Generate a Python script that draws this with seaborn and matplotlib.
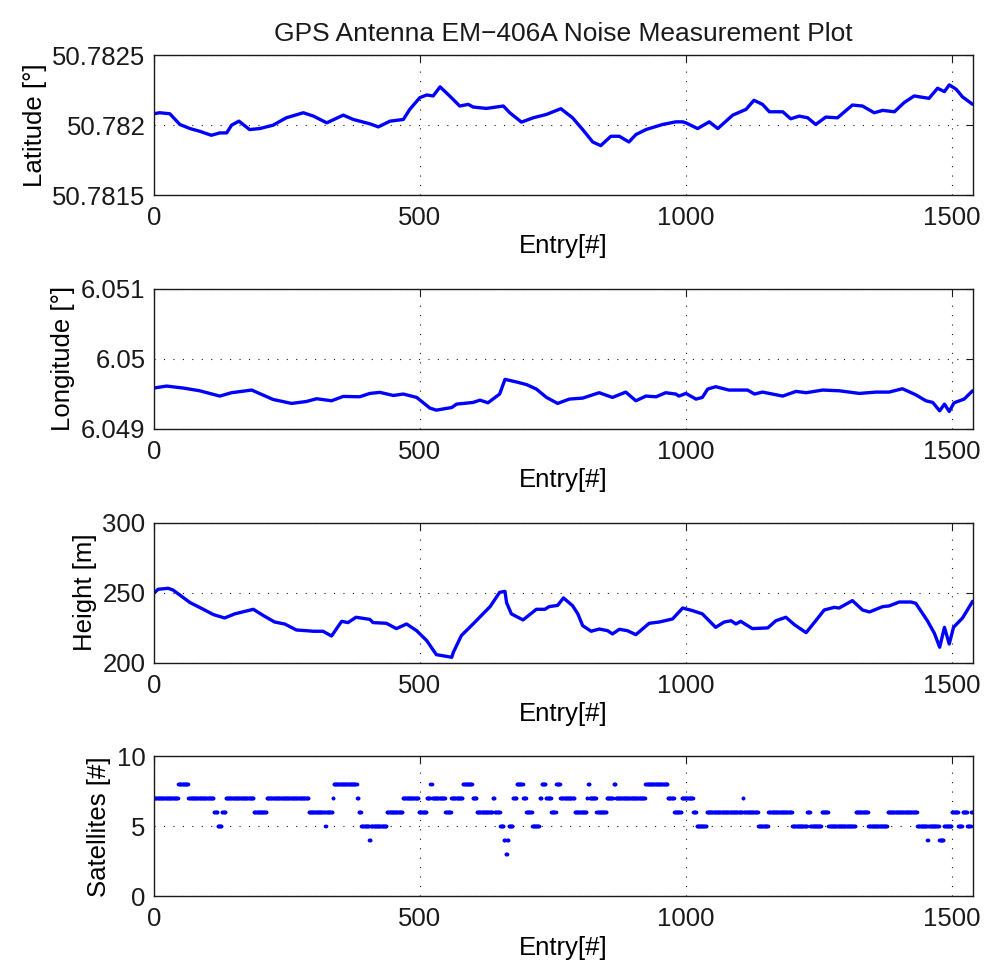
import numpy as np
import seaborn as sns
import matplotlib
matplotlib.use("Agg")
import matplotlib.pyplot as plt
from matplotlib.ticker import FormatStrFormatter

# readings taken off the reference plot (entry index -> value)
lat_entry = [0, 11, 30, 49, 68, 86, 108, 124, 137, 146, 160, 180, 199, 224, 249, 281, 300, 325, 356, 375,
             406, 422, 444, 469, 481, 500, 513, 525, 538, 556, 575, 591, 600, 625, 657, 669, 691, 713, 738, 765,
             787, 806, 825, 840, 859, 875, 893, 906, 925, 956, 981, 994, 1000, 1022, 1044, 1060, 1088, 1113, 1128, 1144,
             1157, 1182, 1197, 1213, 1229, 1244, 1263, 1285, 1313, 1332, 1354, 1370, 1392, 1410, 1429, 1457, 1473, 1486, 1495, 1508,
             1520, 1539]
latitude = [50.782082, 50.782089, 50.782082, 50.782005, 50.781976, 50.781957, 50.781928, 50.781945, 50.781945, 50.782000,
            50.782029, 50.781969, 50.781976, 50.782000, 50.782053, 50.782089, 50.782065, 50.782017, 50.782072, 50.782041,
            50.782010, 50.781988, 50.782029, 50.782041, 50.782113, 50.782197, 50.782216, 50.782209, 50.782274, 50.782209,
            50.782137, 50.782149, 50.782130, 50.782120, 50.782137, 50.782089, 50.782022, 50.782053, 50.782077, 50.782118,
            50.782053, 50.781969, 50.781880, 50.781854, 50.781921, 50.781921, 50.781880, 50.781933, 50.781969, 50.782005,
            50.782024, 50.782024, 50.782017, 50.781976, 50.782024, 50.781976, 50.782072, 50.782113, 50.782178, 50.782149,
            50.782096, 50.782096, 50.782046, 50.782065, 50.782053, 50.782005, 50.782058, 50.782053, 50.782144, 50.782137,
            50.782089, 50.782106, 50.782096, 50.782161, 50.782209, 50.782192, 50.782264, 50.782240, 50.782288, 50.782257,
            50.782202, 50.782149]

lon_entry = [0, 24, 55, 86, 124, 146, 184, 224, 259, 287, 306, 334, 356, 387, 406, 425, 450, 469, 494, 519,
             531, 560, 569, 600, 613, 628, 650, 660, 682, 701, 719, 738, 759, 781, 806, 837, 862, 887, 906, 925,
             944, 962, 981, 987, 1000, 1019, 1031, 1041, 1056, 1081, 1116, 1129, 1144, 1182, 1207, 1226, 1257, 1288, 1326, 1357,
             1382, 1407, 1432, 1451, 1464, 1477, 1486, 1495, 1504, 1523, 1539]
longitude = [6.049584, 6.049612, 6.049584, 6.049545, 6.049469, 6.049517, 6.049555, 6.049421, 6.049364, 6.049392,
             6.049431, 6.049402, 6.049464, 6.049459, 6.049507, 6.049522, 6.049478, 6.049498, 6.049450, 6.049297,
             6.049268, 6.049306, 6.049354, 6.049378, 6.049411, 6.049373, 6.049498, 6.049708, 6.049670, 6.049632,
             6.049569, 6.049450, 6.049364, 6.049426, 6.049440, 6.049517, 6.049450, 6.049526, 6.049402, 6.049469,
             6.049459, 6.049517, 6.049498, 6.049469, 6.049507, 6.049426, 6.049450, 6.049569, 6.049603, 6.049555,
             6.049555, 6.049498, 6.049526, 6.049469, 6.049536, 6.049517, 6.049555, 6.049545, 6.049507, 6.049526,
             6.049526, 6.049574, 6.049488, 6.049402, 6.049378, 6.049258, 6.049354, 6.049249, 6.049373, 6.049426,
             6.049545]

h_entry = [0, 8, 27, 36, 68, 93, 112, 133, 152, 187, 206, 227, 246, 268, 287, 300, 318, 334, 353, 365,
           380, 406, 412, 437, 456, 475, 494, 513, 531, 560, 563, 578, 600, 632, 650, 660, 663, 672, 694, 719,
           735, 743, 759, 770, 787, 797, 806, 822, 837, 853, 862, 875, 890, 906, 931, 950, 975, 994, 1013, 1031,
           1056, 1072, 1085, 1094, 1103, 1125, 1154, 1169, 1188, 1204, 1226, 1244, 1260, 1279, 1288, 1313, 1332, 1345, 1370, 1382,
           1401, 1423, 1432, 1454, 1467, 1477, 1486, 1495, 1503, 1520, 1539]
height = [249.5, 252.4, 253.1, 251.9, 242.9, 238.1, 234.3, 231.9, 234.8, 238.1,
          233.6, 229.0, 227.6, 223.3, 222.8, 222.4, 222.4, 219.0, 229.5, 228.6,
          232.4, 230.9, 228.6, 228.1, 224.3, 227.6, 222.8, 215.7, 205.7, 203.8,
          207.4, 219.3, 227.6, 240.0, 250.2, 250.9, 242.9, 234.8, 230.5, 238.1,
          238.1, 240.0, 240.9, 246.2, 240.7, 234.8, 226.4, 222.4, 224.0, 222.8,
          220.5, 223.8, 222.8, 220.0, 228.1, 229.0, 231.2, 239.0, 237.1, 234.8,
          225.2, 229.0, 229.9, 227.6, 229.5, 224.3, 224.8, 229.9, 232.4, 227.1,
          221.4, 229.9, 237.6, 239.5, 239.0, 244.3, 237.6, 236.2, 240.0, 240.5,
          243.3, 243.3, 242.4, 229.9, 221.0, 211.0, 225.2, 213.3, 225.2, 231.9,
          243.8]

# satellite count, stored as runs: first entry of each run and its value
sat_start = [0, 46, 65, 113, 120, 128, 135, 188, 212, 291, 322, 324, 336, 338, 382, 385, 390, 405, 408, 438,
             468, 498, 513, 520, 523, 548, 559, 581, 599, 607, 637, 641, 651, 658, 661, 664, 667, 675, 682, 694,
             700, 711, 725, 729, 737, 747, 756, 764, 791, 814, 816, 819, 832, 851, 864, 868, 924, 966, 978, 992,
             1014, 1020, 1039, 1107, 1109, 1136, 1155, 1200, 1228, 1234, 1255, 1268, 1319, 1343, 1379, 1435, 1454, 1456, 1476, 1485,
             1500, 1512, 1520, 1529, 1536]
sat_value = [7, 8, 7, 6, 5, 6, 7, 6, 7, 6, 5, 6, 7, 8, 7, 6, 5, 4, 5, 6,
             7, 6, 7, 8, 7, 6, 7, 8, 7, 6, 7, 6, 5, 4, 3, 4, 5, 7, 8, 7,
             6, 5, 7, 8, 7, 6, 8, 7, 6, 7, 8, 7, 6, 7, 8, 7, 8, 7, 6, 7,
             6, 5, 6, 7, 6, 5, 6, 5, 6, 5, 6, 5, 6, 5, 6, 5, 4, 5, 4, 5,
             6, 5, 6, 5, 6]
n_entries = 1540

sat_len = np.diff(sat_start + [n_entries])
satellites = np.repeat(sat_value, sat_len)
sat_entry = np.arange(n_entries)

sns.set_theme(style="white")
plt.rcParams['font.family'] = ['Liberation Sans', 'DejaVu Sans']
plt.rcParams['text.color'] = 'black'
plt.rcParams['axes.labelcolor'] = 'black'
plt.rcParams['xtick.color'] = 'black'
plt.rcParams['ytick.color'] = 'black'

fig, axes = plt.subplots(4, 1, figsize=(9.86, 9.69), dpi=100)
plt.subplots_adjust(left=0.156, right=0.987, top=0.943, bottom=0.075, hspace=0.67)

blue = (0, 0, 1)
fs = 18.5
sns.lineplot(x=lat_entry, y=latitude, ax=axes[0], color=blue, linewidth=2.4)
sns.lineplot(x=lon_entry, y=longitude, ax=axes[1], color=blue, linewidth=2.4)
sns.lineplot(x=h_entry, y=height, ax=axes[2], color=blue, linewidth=2.4)
sns.scatterplot(x=sat_entry, y=satellites, ax=axes[3], color=blue, s=7, linewidth=0)

ylabels = ['Latitude [°]', 'Longitude [°]', 'Height [m]', 'Satellites [#]']
ylims = [(50.7815, 50.7825), (6.049, 6.051), (200, 300), (0, 10)]
yticks = [[50.7815, 50.782, 50.7825], [6.049, 6.05, 6.051], [200, 250, 300], [0, 5, 10]]

for ax, lab, lim, tks in zip(axes, ylabels, ylims, yticks):
    ax.set_xlim(0, n_entries)
    ax.set_ylim(*lim)
    ax.set_xticks([0, 500, 1000, 1500])
    ax.set_yticks(tks)
    ax.yaxis.set_major_formatter(FormatStrFormatter('%g'))
    ax.set_xlabel('Entry[#]', fontsize=fs, labelpad=3)
    ax.set_ylabel(lab, fontsize=fs, labelpad=4)
    ax.grid(True, color='k', linestyle=(0, (1, 7.5)), linewidth=0.8)
    ax.tick_params(direction='in', top=True, right=True, length=5, width=0.8,
                   labelsize=fs, color='k', labelcolor='k')
    ax.tick_params(axis='x', pad=8)
    ax.tick_params(axis='y', pad=6)
    for sp in ax.spines.values():
        sp.set_color('k')
        sp.set_linewidth(1.0)

axes[0].set_title('GPS Antenna EM\u2212406A Noise Measurement Plot', fontsize=fs + 0.5, pad=10, color='k')

fig.savefig('out.png', dpi=100)
